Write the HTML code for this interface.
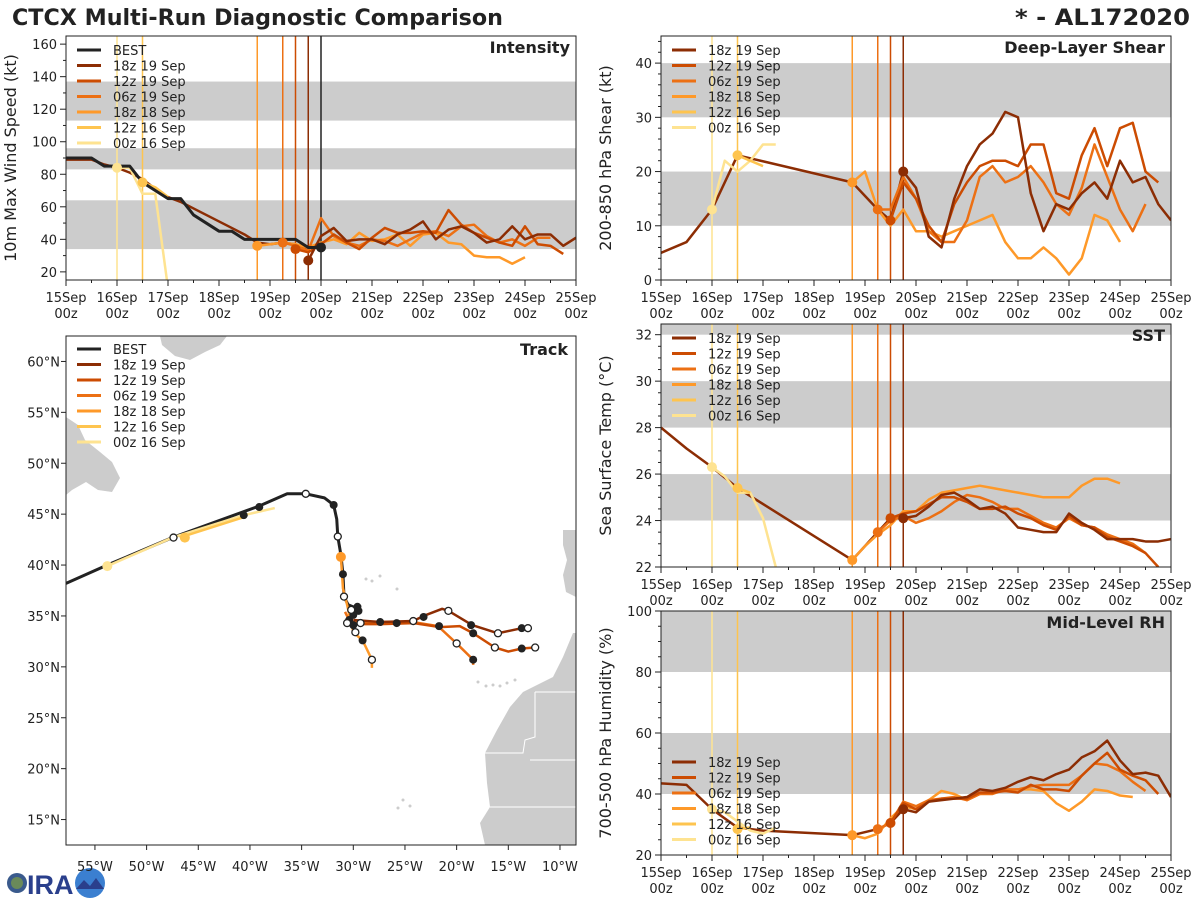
<!DOCTYPE html>
<html><head><meta charset="utf-8"><style>
html,body{margin:0;padding:0;background:#fff;}
svg{display:block;font-family:"DejaVu Sans","Liberation Sans",sans-serif;}
</style></head><body>
<svg id="fig" width="1200" height="900" viewBox="0 0 1200 900" xmlns="http://www.w3.org/2000/svg">
<rect width="1200" height="900" fill="#fff"/>
<text x="12" y="25" font-size="22" font-weight="bold" fill="#222" textLength="491" lengthAdjust="spacingAndGlyphs">CTCX Multi-Run Diagnostic Comparison</text>
<text x="1015" y="25" font-size="22" font-weight="bold" fill="#222" textLength="175" lengthAdjust="spacingAndGlyphs">* - AL172020</text>
<g id="logo">
<circle cx="17" cy="883" r="10" fill="#3a5a8c"/><circle cx="17" cy="883" r="6" fill="#6a8a5a"/>
<text x="27" y="894" font-size="27" font-weight="bold" fill="#2a3f8c" font-family="Liberation Sans, sans-serif">IRA</text>
<circle cx="90" cy="883" r="15" fill="#3b7fd0"/><path d="M76,889 L84,880 L90,886 L96,878 L104,889 Z" fill="#2a3f8c"/>
</g>
</svg>
<script>
const NS="http://www.w3.org/2000/svg";
const svg=document.getElementById('fig');
function mk(tag,attrs,parent){const e=document.createElementNS(NS,tag);for(const k in attrs)e.setAttribute(k,attrs[k]);(parent||svg).appendChild(e);return e;}

// ---------- DATA ----------
const runNames=["18z 19 Sep","12z 19 Sep","06z 19 Sep","18z 18 Sep","12z 16 Sep","00z 16 Sep"];
const runColors=["#8c2d04","#cc4c02","#ec7014","#fe9929","#fec44f","#fee391"];
const runInit=[114,108,102,90,36,24];
const xTickLabels=["15Sep","16Sep","17Sep","18Sep","19Sep","20Sep","21Sep","22Sep","23Sep","24Sep","25Sep"];

// Intensity (kt), 6-hourly
const bestInt=[90,90,90,85,85,85,75,70,65,65,55,50,45,45,40,40,40,40,40,35,35];
const histInt=[89,89,89,86,84,81,77,71,66,63,59,55,51,47,43,38,37,38,37,33];
const int18z19=[27,42,47,39,40,40,37,43,46,51,40,46,48,44,38,40,48,40,43,43,36,41];
const int12z19=[34,32,37,43,38,34,41,47,44,44,45,44,58,49,44,41,38,36,48,37,36,31];
const int06z19=[38,36,33,53,42,38,36,40,39,36,40,44,45,42,48,49,42,38,40,36,41,41];
const int18z18=[36,37,38,37,35,38,40,37,44,39,40,43,36,43,44,38,37,30,29,29,25,29];
const int12z16=[75,72,66];
const int00z16=[84,84,68,68,10];

// Shear (kt)
const histShearT=[0,12,24,36,90,102,108,114];
const histShear=[5,7,13,23,18,13,11,20];
const sh18z19=[20,17,8,6,15,21,25,27,31,30,16,9,14,13,16,18,15,22,18,19,14,11];
const sh12z19=[11,18,15,10,7,14,18,21,22,22,21,25,25,16,15,23,28,21,28,29,20,18];
const sh06z19=[13,13,19,15,9,7,7,11,19,21,18,19,21,18,14,12,17,25,19,13,9,14];
const sh18z18=[18,20,13,10,13,9,9,8,9,10,11,12,7,4,4,6,4,1,4,12,11,7];
const sh12z16=[23,22,21];
const sh00z16=[13,22,20,22,25,25];

// SST (C)
const histSstT=[0,12,24,36,90,102,108,114];
const histSst=[28.0,27.1,26.3,25.4,22.3,23.5,24.1,24.1];
const sst18z19=[24.1,24.2,24.6,25.1,25.2,24.9,24.5,24.6,24.3,23.7,23.6,23.5,23.5,24.3,23.9,23.6,23.2,23.2,23.2,23.1,23.1,23.2];
const sst12z19=[24.1,24.3,24.4,24.7,25.0,25.0,24.8,24.5,24.5,24.6,24.3,24.1,23.8,23.6,24.2,23.8,23.7,23.3,23.1,22.9,22.6,22.0];
const sst06z19=[23.5,24.0,24.2,23.9,24.1,24.4,24.8,25.1,25.0,24.8,24.5,24.5,24.2,23.9,23.7,24.1,23.8,23.7,23.4,23.2,23.0,22.6];
const sst18z18=[22.3,22.9,23.4,23.8,24.4,24.4,24.9,25.2,25.3,25.4,25.5,25.4,25.3,25.2,25.1,25.0,25.0,25.0,25.5,25.8,25.8,25.6];
const sst12z16=[25.4,25.2];
const sst00z16=[26.3,25.9,25.2,25.2,24.1,22.0];

// RH (%)
const histRhT=[0,12,24,36,48,90,102,108,114];
const histRh=[43.5,43,35,29,28,26.5,28.5,30.5,35];
const rh18z19=[35,34,37.5,38,38.5,39,41.5,41,42,44,45.5,44.5,46.5,48,52,54,57.5,51,46.5,47,46,39];
const rh12z19=[30.5,37,35,37.5,38.5,38.5,38.5,40.5,40.5,41,40.5,43,41.5,41.5,41,46,50,53.5,48,46,44.5,40];
const rh06z19=[28.5,30.5,37.5,36,38,38.5,39,38,40,40,41.5,41.5,42.5,43,43,43,46,50,49.5,47.5,44,41];
const rh18z18=[26.5,25.5,27,32,36,35,38,41,40,38,40,41,41,41.5,41.5,41,37,34.5,37.5,41.5,41,39.5,39];
const rh12z16=[28.5,29];
const rh00z16=[35,34,31,28,27,29];

// Tracks (lon, lat)
const bestLon=[-57.8,-53.8,-47.5,-39.1,-36.4,-34.6,-32.8,-31.9,-31.6,-31.5,-31.2,-31.0,-30.9,-30.5,-29.8,-29.5];
const bestLat=[38.2,40.0,42.7,45.8,47.0,47.0,46.6,45.9,44.5,42.8,41.0,39.1,36.9,36.1,35.8,35.2];
const trk18z19Lon=[-30.0,-27.4,-24.2,-23.2,-21.4,-20.8,-18.5,-16.0,-13.7,-13.1];
const trk18z19Lat=[34.6,34.4,34.5,35.0,35.7,35.5,34.1,33.3,33.8,33.8];
const trk12z19Lon=[-30.3,-27.4,-24.2,-21.6,-19.7,-18.4,-16.3,-15.0,-13.7,-12.4];
const trk12z19Lat=[34.2,34.2,34.3,33.9,34.0,33.3,31.9,31.5,31.8,31.9];
const trk06z19Lon=[-30.8,-30.3,-27.4,-24.2,-21.8,-20.0,-18.4,-18.4];
const trk06z19Lat=[35.4,34.4,34.4,34.4,34.0,32.3,30.7,30.2];
const trk18z18Lon=[-31.2,-31.0,-30.6,-30.0,-29.1,-28.2,-28.2];
const trk18z18Lat=[40.8,37.7,36.1,33.4,32.6,30.7,29.9];
const trk12z16Lon=[-46.8,-40.6];
const trk12z16Lat=[42.7,44.7];
const trk00z16Lon=[-53.8,-47.5,-40.6,-37.6];
const trk00z16Lat=[39.9,42.7,44.9,45.6];
const filledLon=[-31.9,-31.0,-29.6,-29.5,-39.1,-40.6,-23.2,-18.6,-13.7,-21.7,-18.4,-13.7,-18.4,-29.1,-27.4,-25.8,-30.0,-30.4,-30.0];
const filledLat=[45.9,39.1,35.9,35.5,45.7,44.9,34.9,34.1,33.8,34.0,33.3,31.8,30.7,32.6,34.4,34.3,34.1,34.6,35.1];
const openLon=[-34.6,-31.5,-30.9,-47.4,-20.8,-16.0,-13.1,-16.3,-12.4,-24.2,-20.0,-28.2,-30.6,-29.3,-29.8,-30.2];
const openLat=[47.0,42.8,36.9,42.7,35.5,33.3,33.8,31.9,31.9,34.5,32.3,30.7,34.3,34.3,33.4,35.6];
const lonTicks=[-55,-50,-45,-40,-35,-30,-25,-20,-15,-10];
const latTicks=[15,20,25,30,35,40,45,50,55,60];

// ---------- PANELS ----------
function makePanel(name,x0,x1,y0,y1,vmin,vmax){return {name,x0,x1,y0,y1,vmin,vmax,
 X:h=>x0+h/240*(x1-x0), Y:v=>y1-(v-vmin)/(vmax-vmin)*(y1-y0)};}

function drawTimePanel(p,opts){
 const g=mk('g',{});
 
 
 mk('rect',{x:p.x0,y:p.y0,width:p.x1-p.x0,height:p.y1-p.y0,fill:'#fff'},g);
 const cp='clip-'+p.name;
 const cl=mk('clipPath',{id:cp},g);mk('rect',{x:p.x0,y:p.y0,width:p.x1-p.x0,height:p.y1-p.y0},cl);
 const inner=mk('g',{'clip-path':'url(#'+cp+')'},g);
 opts.bands.forEach(b=>{const r=mk('rect',{x:p.x0,y:p.Y(Math.min(b[1],p.vmax)),width:p.x1-p.x0,height:p.Y(b[0])-p.Y(Math.min(b[1],p.vmax)),fill:'#cccccc'},inner);
  });
 runInit.forEach((h,i)=>{const l=mk('line',{x1:p.X(h),x2:p.X(h),y1:p.y0,y2:p.y1,stroke:runColors[i],'stroke-width':1.5},inner);
  });
 if(opts.bestLine){const l=mk('line',{x1:p.X(120),x2:p.X(120),y1:p.y0,y2:p.y1,stroke:'#222','stroke-width':1.5},inner);
  }
 function poly(ts,vs,col,w,nm){const pts=ts.map((t,i)=>p.X(t)+','+p.Y(vs[i])).join(' ');
  const e=mk('polyline',{points:pts,fill:'none',stroke:col,'stroke-width':w,'stroke-linejoin':'round'},inner);
  return e;}
 poly(opts.histT,opts.hist,runColors[0],2.5,'history-line');
 for(let i=5;i>=0;i--){const vals=opts.runs[i];const ts=vals.map((v,k)=>runInit[i]+6*k);
  poly(ts,vals,runColors[i],2.5,'series-'+runNames[i].replace(/ /g,'-').toLowerCase());}
 if(opts.best){const ts=opts.best.map((v,k)=>6*k);poly(ts,opts.best,'#222',3,'best-line');
  const d=mk('circle',{cx:p.X(120),cy:p.Y(opts.best[opts.best.length-1]),r:5,fill:'#222'},inner);
  }
 for(let i=0;i<6;i++){const d=mk('circle',{cx:p.X(runInit[i]),cy:p.Y(opts.runs[i][0]),r:5,fill:runColors[i]},inner);
  }
 mk('rect',{x:p.x0,y:p.y0,width:p.x1-p.x0,height:p.y1-p.y0,fill:'none',stroke:'#222','stroke-width':1},g);
 for(let k=0;k<=20;k++){const x=p.X(k*12);mk('line',{x1:x,x2:x,y1:p.y1,y2:p.y1+(k%2?3:6),stroke:'#222'},g);}
 xTickLabels.forEach((s,k)=>{const x=p.X(k*24);
  const t1=mk('text',{x:x,y:p.y1+22,'font-size':13,'text-anchor':'middle',fill:'#222'},g);t1.textContent=s;
  
  const t2=mk('text',{x:x,y:p.y1+38,'font-size':13,'text-anchor':'middle',fill:'#222'},g);t2.textContent='00z';
  });
 opts.yticks.forEach(v=>{const y=p.Y(v);mk('line',{x1:p.x0-6,x2:p.x0,y1:y,y2:y,stroke:'#222'},g);
  const t=mk('text',{x:p.x0-9,y:y+5,'font-size':13,'text-anchor':'end',fill:'#222'},g);t.textContent=v;
  });
 opts.yminor.forEach(v=>{const y=p.Y(v);mk('line',{x1:p.x0-3,x2:p.x0,y1:y,y2:y,stroke:'#222'},g);});
 const yl=mk('text',{x:0,y:0,'font-size':16,'text-anchor':'middle',fill:'#222',transform:`translate(${p.x0-50},${(p.y0+p.y1)/2}) rotate(-90)`},g);
 yl.textContent=opts.ylabel;
 const tt=mk('text',{x:p.x1-6,y:p.y0+17,'font-size':16,'font-weight':'bold','text-anchor':'end',fill:'#222'},g);
 tt.textContent=opts.title;
 drawLegend(g,p.x0+11,opts.legendY,opts.bestLegend);
}
function drawLegend(g,lx,ly,withBest){
 const names=(withBest?["BEST"]:[]).concat(runNames);const cols=(withBest?["#222"]:[]).concat(runColors);
 names.forEach((n,i)=>{const y=ly+i*15.5;
  const e=mk('g',{},g);
  mk('line',{x1:lx,x2:lx+24,y1:y,y2:y,stroke:cols[i],'stroke-width':3},e);
  const t=mk('text',{x:lx+36,y:y+5,'font-size':13,fill:'#222'},e);t.textContent=n;});
}
function range(a,b,s){const r=[];for(let v=a;v<=b+1e-9;v+=s)r.push(+v.toFixed(2));return r;}

const pI=makePanel('intensity',66,576,36,280,15,165);
drawTimePanel(pI,{bands:[[34,64],[83,96],[113,137]],histT:histInt.map((v,k)=>6*k),hist:histInt,
 runs:[int18z19,int12z19,int06z19,int18z18,int12z16,int00z16],best:bestInt,bestLine:true,
 yticks:range(20,160,20),yminor:range(30,150,20),ylabel:'10m Max Wind Speed (kt)',title:'Intensity',legendY:50,bestLegend:true});
const pS=makePanel('shear',661,1171,36,280,0,45);
drawTimePanel(pS,{bands:[[10,20],[30,40]],histT:histShearT,hist:histShear,
 runs:[sh18z19,sh12z19,sh06z19,sh18z18,sh12z16,sh00z16],
 yticks:range(0,40,10),yminor:range(2,44,2).filter(v=>v%10),ylabel:'200-850 hPa Shear (kt)',title:'Deep-Layer Shear',legendY:50});
const pT=makePanel('sst',661,1171,324,567,22,32.46);
drawTimePanel(pT,{bands:[[24,26],[28,30],[32,33]],histT:histSstT,hist:histSst,
 runs:[sst18z19,sst12z19,sst06z19,sst18z18,sst12z16,sst00z16],
 yticks:range(22,32,2),yminor:range(22.5,32,0.5).filter(v=>v%2),ylabel:'Sea Surface Temp (°C)',title:'SST',legendY:338});
const pR=makePanel('rh',661,1171,611,855,20,100);
drawTimePanel(pR,{bands:[[40,60],[80,100]],histT:histRhT,hist:histRh,
 runs:[rh18z19,rh12z19,rh06z19,rh18z18,rh12z16,rh00z16],
 yticks:range(20,100,20),yminor:range(25,95,5).filter(v=>v%20),ylabel:'700-500 hPa Humidity (%)',title:'Mid-Level RH',legendY:762});

// ---------- TRACK MAP ----------
(function(){
 const x0=66,x1=576,y0=336,y1=845,lonMin=-57.8,lonMax=-8.45,latMin=12.5,latMax=62.5;
 const LX=lon=>x0+(lon-lonMin)/(lonMax-lonMin)*(x1-x0);
 const LY=lat=>y1-(lat-latMin)/(latMax-latMin)*(y1-y0);
 const g=mk('g',{});
 const cl=mk('clipPath',{id:'clip-track'},g);mk('rect',{x:x0,y:y0,width:x1-x0,height:y1-y0},cl);
 const inner=mk('g',{'clip-path':'url(#clip-track)'},g);
 const land=[
  "160,336 227,336 220,345 205,352 190,360 175,356 162,345",
  "66,417 78,425 85,440 100,452 112,462 120,478 112,492 98,490 86,482 72,490 66,495",
  "563,530 576,530 576,597 566,592 563,575 567,560 563,545",
  "576,633 573,633 563,657 553,677 523,692 510,707 497,730 485,753 487,783 490,807 480,823 485,845 576,845"
 ];
 land.forEach(pts=>{const e=mk('polygon',{points:pts,fill:'#cccccc',stroke:'none'},inner);
  });
 [["535,692 576,692"],["535,692 535,737 525,740 523,753 485,753"],["490,807 576,807"],["530,760 576,760"]].forEach(b=>{
  mk('polyline',{points:b[0],fill:'none',stroke:'#fff','stroke-width':1},inner);});
 [[478,682],[486,686],[493,685],[500,686],[507,683],[515,680],[403,800],[410,806],[398,808],[366,579],[372,581],[380,576],[397,589]].forEach(c=>mk('circle',{cx:c[0],cy:c[1],r:1.5,fill:'#ccc'},inner));
 function trk(lons,lats,col,w,nm){const e=mk('polyline',{points:lons.map((l,i)=>LX(l)+','+LY(lats[i])).join(' '),fill:'none',stroke:col,'stroke-width':w,'stroke-linejoin':'round'},inner);
  }
 trk(bestLon,bestLat,'#222',3,'best-track');
 trk(trk00z16Lon,trk00z16Lat,runColors[5],2.5,'track-00z-16-sep');
 trk(trk12z16Lon,trk12z16Lat,runColors[4],2.5,'track-12z-16-sep');
 trk(trk18z18Lon,trk18z18Lat,runColors[3],2.5,'track-18z-18-sep');
 trk(trk06z19Lon,trk06z19Lat,runColors[2],2.5,'track-06z-19-sep');
 trk(trk12z19Lon,trk12z19Lat,runColors[1],2.5,'track-12z-19-sep');
 trk(trk18z19Lon,trk18z19Lat,runColors[0],2.5,'track-18z-19-sep');
 [[trk00z16Lon[0],trk00z16Lat[0],5],[trk12z16Lon[0]+0.5,trk12z16Lat[0],4],[trk18z18Lon[0],trk18z18Lat[0],3]].forEach(a=>{
  const d=mk('circle',{cx:LX(a[0]),cy:LY(a[1]),r:5,fill:runColors[a[2]]},inner);});
 filledLon.forEach((l,i)=>{const d=mk('circle',{cx:LX(l),cy:LY(filledLat[i]),r:4,fill:'#222'},inner);
  });
 openLon.forEach((l,i)=>{const d=mk('circle',{cx:LX(l),cy:LY(openLat[i]),r:3.5,fill:'#fff',stroke:'#222','stroke-width':1.3},inner);
  });
 mk('rect',{x:x0,y:y0,width:x1-x0,height:y1-y0,fill:'none',stroke:'#222','stroke-width':1},g);
 lonTicks.forEach(l=>{const x=LX(l);mk('line',{x1:x,x2:x,y1:y1,y2:y1+5,stroke:'#222'},g);
  const t=mk('text',{x:x,y:y1+26,'font-size':13,'text-anchor':'middle',fill:'#222'},g);t.textContent=(-l)+'°W';
  });
 latTicks.forEach(l=>{const y=LY(l);mk('line',{x1:x0-5,x2:x0,y1:y,y2:y,stroke:'#222'},g);
  const t=mk('text',{x:x0-6,y:y+5,'font-size':13,'text-anchor':'end',fill:'#222'},g);t.textContent=l+'°N';
  });
 const tt=mk('text',{x:x1-8,y:y0+19,'font-size':16,'font-weight':'bold','text-anchor':'end',fill:'#222'},g);
 tt.textContent='Track';
 drawLegend(g,77,349,true);
})();
</script>
</body></html>
